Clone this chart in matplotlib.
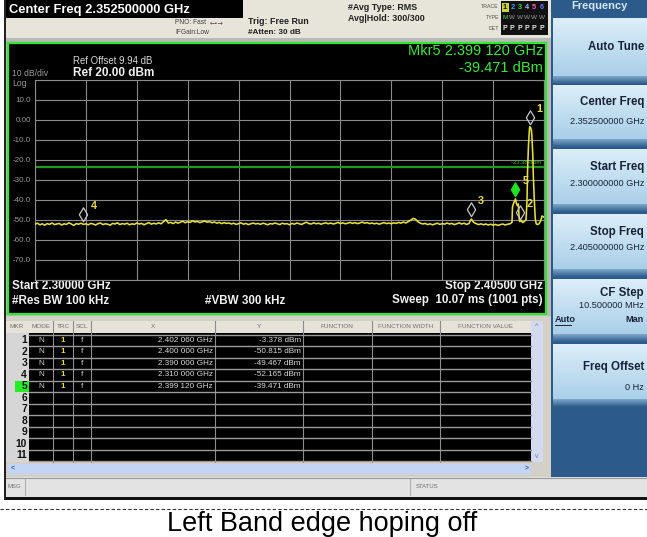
import numpy as np
import matplotlib
matplotlib.use('Agg')
import matplotlib.pyplot as plt
from matplotlib.patches import Rectangle
from matplotlib.path import Path
from matplotlib.colors import to_rgb
from matplotlib import font_manager

W, H = 647, 537

# ---------------- data ----------------
center_freq_ghz = 2.3525
start_freq_ghz = 2.300
stop_freq_ghz = 2.405
ref_level_dbm = 20.0
ref_offset_db = 9.94
db_per_div = 10
display_line_dbm = -23.38
rbw_khz = 100
vbw_khz = 300
sweep_ms = 10.07
sweep_pts = 1001
atten_db = 30
cf_step_mhz = 10.5

# sweep trace, noise part: one sample every 0.5 MHz from 2.300 GHz
noise_start_ghz = 2.300
noise_step_ghz = 0.0005
noise_dbm = [
    -52.1, -51.6, -52.4, -51.9, -52.6, -51.8, -52.2, -51.5, -52.3, -52.0,
    -51.7, -52.5, -51.9, -52.2, -51.4, -52.0, -52.7, -51.8, -52.1, -51.6,
    -52.2, -51.9, -52.4, -51.7, -52.0, -52.5, -51.8, -51.5, -52.3, -51.9,
    -52.1, -52.6, -51.7, -52.0, -51.4, -52.3, -51.8, -52.1, -51.6, -52.4,
    -51.9, -52.2, -51.5, -52.0, -51.7, -52.4, -51.8, -51.3, -52.1, -51.6,
    -52.0, -51.4, -51.9, -50.9, -49.8, -51.5, -51.2, -51.8, -51.0, -51.6,
    -51.1, -50.6, -51.4, -50.8, -51.2, -50.4, -51.0, -50.7, -51.3, -50.9,
    -50.5, -51.1, -50.8, -51.4, -51.0, -51.6, -51.2, -51.8, -51.3, -51.7,
    -51.5, -52.0, -51.6, -52.2, -51.8, -51.4, -52.1, -51.7, -52.3, -51.9,
    -51.5, -52.0, -51.7, -52.2, -51.6, -51.9, -52.4, -51.8, -52.0, -51.5,
    -51.9, -52.3, -51.6, -52.0, -51.8, -52.4, -51.7, -52.1, -51.5, -51.9,
    -52.2, -51.6, -51.1, -51.8, -52.0, -51.4, -51.9, -51.6, -52.1, -51.7,
    -51.4, -51.9, -51.5, -52.0, -51.7, -51.2, -51.8, -51.4, -51.9, -51.6,
    -51.2, -51.7, -51.3, -51.8, -51.5, -51.0, -51.6, -51.3, -51.8, -51.5,
    -51.9, -51.6, -52.1, -51.7, -51.3, -51.8, -51.5, -51.9, -51.4, -51.7,
    -51.2, -51.6, -51.0, -51.5, -50.8, -50.1, -49.2, -49.6, -50.9, -51.6,
    -52.0, -51.7, -52.3, -51.9, -52.4, -52.0, -51.6, -52.2, -51.8, -52.1,
    -51.5, -52.0, -51.7, -52.3, -51.9, -51.4, -52.0, -51.6, -52.2, -51.8,
    -49.5, -51.2, -51.8, -52.3, -51.9, -52.4, -52.0, -52.5, -52.1, -52.6,
    -52.2, -52.7, -52.3, -52.0, -52.5, -52.1,
]
# sweep trace, signal part near the band edge
peak_freq_ghz = [2.3980, 2.3984, 2.3985, 2.3987, 2.39912, 2.3993, 2.3995, 2.3997,
                 2.3998, 2.3999, 2.4000, 2.4003, 2.4006, 2.4010, 2.4013, 2.4015,
                 2.4016, 2.4018, 2.4020, 2.40206, 2.4022, 2.4024, 2.4025, 2.4027,
                 2.4028, 2.4030, 2.4032, 2.4034, 2.4037, 2.4040, 2.4043, 2.4046, 2.4050]
peak_dbm = [-51.9, -51.2, -43.5, -41.8, -39.471, -41.6, -42.8, -42.0,
            -45.5, -49.8, -50.815, -50.2, -51.3, -50.6, -49.8, -40.0,
            -26.0, -12.5, -4.6, -3.378, -3.7, -5.0, -8.0, -18.0,
            -28.0, -40.0, -49.5, -52.0, -52.3, -51.8, -50.5, -48.0, -48.6]

marker_ids = [1, 2, 3, 4, 5]
marker_mode = ['N', 'N', 'N', 'N', 'N']
marker_trace = ['1', '1', '1', '1', '1']
marker_scale = ['f', 'f', 'f', 'f', 'f']
marker_freq_ghz = [2.40206, 2.400000, 2.390000, 2.310000, 2.39912]
marker_dbm = [-3.378, -50.815, -49.467, -52.165, -39.471]
active_marker = 5
table_rows = 11

y_tick_values = [-80, -70, -60, -50, -40, -30, -20, -10, 0, 10, 20]
y_tick_labels = ['', '-70.0', '-60.0', '-50.0', '-40.0', '-30.0', '-20.0', '-10.0', '0.00', '10.0', '']

table_headers = ['MKR', 'MODE', 'TRC', 'SCL', 'X', 'Y', 'FUNCTION', 'FUNCTION WIDTH', 'FUNCTION VALUE']

# ---------------- fonts ----------------
SANS = ['Liberation Sans', 'DejaVu Sans']
_names = {f.name for f in font_manager.fontManager.ttflist}
HAS_NARROW = 'Liberation Sans Narrow' in _names
NARROW = ['Liberation Sans Narrow', 'Liberation Sans', 'DejaVu Sans'] if HAS_NARROW else SANS


def fmt_freq(f):
    s = f"{f:.6f}"
    return s[:5] + ' ' + s[5:]


fig = plt.figure(figsize=(W / 100, H / 100), dpi=100, facecolor='white')
bg = fig.add_axes([0, 0, 1, 1])
bg.set_axis_off()


def rect(x0, y0, x1, y1, fc, ec='none', lw=0, z=1):
    bg.add_patch(Rectangle((x0, y0), x1 - x0, y1 - y0, facecolor=fc, edgecolor=ec, lw=lw, zorder=z))


def T(x, y, s, size, color, ha='left', va='center', weight='normal', family=None, z=6, **kw):
    return bg.text(x, y, s, fontsize=size, color=color, ha=ha, va=va, fontweight=weight,
                   family=family or SANS, zorder=z, **kw)


def grad(x0, y0, x1, y1, c_top, c_bot, z=2):
    a = np.array(to_rgb(c_top))
    b = np.array(to_rgb(c_bot))
    t = np.linspace(0, 1, 64)[:, None]
    img = (a * (1 - t) + b * t)[:, None, :]
    bg.imshow(img, extent=(x0, x1, y1, y0), aspect='auto', interpolation='bilinear', zorder=z)


# ---------------- header ----------------
rect(5, 0, 551, 40, '#e7e4d9')
rect(5, 38, 551, 316, '#b8b8b8')
rect(5, 0, 243, 18, '#000000', z=2)
T(9, 9.5, f"Center Freq {center_freq_ghz:.9f} GHz", 9.3, 'white', weight='bold')
T(175, 23, 'PNO: Fast', 4.8, '#404040')
T(210, 23, '\u2190\u2022\u2192', 4.4, '#404040', family=['DejaVu Sans'])
T(175, 33, 'IFGain:Low', 4.8, '#404040')
T(248, 21.5, 'Trig: Free Run', 6.4, '#202020', weight='bold')
T(248, 32, f'#Atten: {atten_db} dB', 5.9, '#202020', weight='bold')
T(348, 7.5, '#Avg Type: RMS', 6.4, '#202020', weight='bold')
T(348, 18.5, 'Avg|Hold: 300/300', 6.4, '#202020', weight='bold')

# trace status box
rect(501, 1, 548, 35, '#111111', z=2)
T(499, 6.5, 'TRACE', 3.8, '#505050', ha='right')
T(499, 17.5, 'TYPE', 3.8, '#505050', ha='right')
T(499, 28.5, 'DET', 3.8, '#505050', ha='right')
trace_cols = ['#111111', '#3aa0ff', '#40d040', '#b0b0ff', '#ff60c0', '#7070ff']
rect(502, 2.5, 508.5, 11.5, '#c8d040', z=3)
for i in range(6):
    x = 505 + i * 7.3
    T(x, 7.2, str(i + 1), 5.3, trace_cols[i], ha='center', weight='bold')
    T(x, 17.8, 'M' if i == 0 else 'W', 4.6, '#40e040' if i == 0 else '#9a9a9a', ha='center')
    T(x, 28.5, 'P', 5.0, '#e8e8e8', ha='center', weight='bold')

# ---------------- plot panel ----------------
rect(8, 43, 546, 314, '#000000', ec='#2ee82e', lw=1.6, z=2)
T(73, 61.5, f'Ref Offset {ref_offset_db:.2f} dB', 6.9, '#d8d8d8')
T(73, 73, f'Ref {ref_level_dbm:.2f} dBm', 8.5, '#f0f0f0', weight='bold')
T(12, 73.5, f'{db_per_div} dB/div', 6.2, '#9a9a9a')
T(12, 83.5, 'Log', 6.2, '#9a9a9a')
mk = marker_ids.index(active_marker)
T(543, 51, f'Mkr{active_marker} {fmt_freq(marker_freq_ghz[mk])} GHz', 10.5, '#3ce63c', ha='right')
T(543, 67.5, f'{marker_dbm[mk]:.3f} dBm', 10.5, '#3ce63c', ha='right')
T(12, 286, f'Start {start_freq_ghz:.5f} GHz', 8.4, '#f0f0f0', weight='bold')
T(12, 300.5, f'#Res BW {rbw_khz} kHz', 8.4, '#f0f0f0', weight='bold')
T(205, 300.5, f'#VBW {vbw_khz} kHz', 8.4, '#f0f0f0', weight='bold')
T(543, 286, f'Stop {stop_freq_ghz:.5f} GHz', 8.4, '#f0f0f0', ha='right', weight='bold')
T(543, 300.5, f'Sweep  {sweep_ms:.2f} ms ({sweep_pts} pts)', 8.4, '#f0f0f0', ha='right', weight='bold')

# ---------------- marker table ----------------
rect(5, 316, 551, 477, '#d3d0c7')
rect(6, 321, 531, 333, '#e5e2d7', z=2)
rect(6, 333, 29, 461.5, '#d6d6d6', z=2)
rect(29, 333, 531, 461.5, '#000000', z=2)
row_top = 334.5
row_h = 11.5
col_seps = [29, 53, 73, 91, 215, 303, 372, 440]
for xs in col_seps[1:]:
    bg.plot([xs, xs], [321, 461.5], color='#8c8c8c', lw=0.8, zorder=3)
for i in range(table_rows + 1):
    y = row_top + i * row_h
    bg.plot([29, 531], [y, y], color='#9a9a9a', lw=1.0, zorder=3)
hdr_x = [17, 41, 63, 82, 153, 259, 337, 406, 485]
for hx, ht in zip(hdr_x, table_headers):
    T(hx, 327, ht, 4.6, '#707070', ha='center')
val_size = 6.9 if HAS_NARROW else 5.9
for r in range(table_rows):
    yc = row_top + (r + 0.5) * row_h
    if r + 1 == active_marker:
        rect(15, row_top + r * row_h, 29, row_top + (r + 1) * row_h, '#22ee22', z=3)
    T(27, yc, str(r + 1), 7.4, '#101010', ha='right', weight='bold')
for i, mid in enumerate(marker_ids):
    yc = row_top + (mid - 0.5) * row_h
    T(41, yc, marker_mode[i], val_size, '#d0d0d0', ha='center', family=NARROW)
    T(63, yc, marker_trace[i], val_size, '#e8dc30', ha='center', family=NARROW, weight='bold')
    T(82, yc, marker_scale[i], val_size, '#d0d0d0', ha='center', family=NARROW)
    T(213, yc, f'{fmt_freq(marker_freq_ghz[i])} GHz', val_size, '#d8d8d8', ha='right', family=NARROW)
    T(301, yc, f'{marker_dbm[i]:.3f} dBm', val_size, '#d8d8d8', ha='right', family=NARROW)
# scrollbars
rect(531, 321, 543, 461.5, '#d3daf0', z=2)
T(537, 326, '^', 5, '#7080b0', ha='center')
T(537, 456, 'v', 5, '#7080b0', ha='center')
rect(8, 464, 531, 474, '#c3d5f5', z=2)
T(13, 469, '<', 5, '#4060a0', ha='center', weight='bold')
T(527, 469, '>', 5, '#4060a0', ha='center', weight='bold')

# ---------------- status bar ----------------
rect(5, 477, 647, 497, '#e3e3e3', z=2)
bg.plot([5, 647], [477.5, 477.5], color='#9a9a9a', lw=0.8, zorder=3)
bg.plot([25, 25], [479, 495], color='#b0b0b0', lw=0.8, zorder=3)
bg.plot([410, 410], [479, 495], color='#b0b0b0', lw=0.8, zorder=3)
T(8, 487, 'MSG', 4.3, '#707070')
T(416, 487, 'STATUS', 4.3, '#707070')
rect(5, 497, 647, 500, '#111111', z=3)
rect(4, 0, 6, 500, '#222222', z=3)

# ---------------- softkey panel ----------------
rect(551, 0, 647, 477, '#2c5b8b', z=2)
T(599, 6, 'Frequency', 8.0, '#d4e6fa', ha='center', weight='bold')
buttons = [(18, 76), (85, 139), (149, 204), (214, 269), (279, 334), (344, 399)]
for (t0, t1) in buttons:
    grad(553, t0, 647, t1, '#dceef9', '#a9cfe8', z=3)
    grad(553, t1, 647, t1 + 8, '#7fa9cc', '#2c5b8b', z=3)
KC = '#172238'
T(644, 47, 'Auto Tune', 8.3, KC, ha='right', weight='bold')
T(644, 102.5, 'Center Freq', 8.3, KC, ha='right', weight='bold')
T(644, 122, f'{center_freq_ghz:.9f} GHz', 6.6, KC, ha='right')
T(644, 167, 'Start Freq', 8.3, KC, ha='right', weight='bold')
T(644, 183, f'{start_freq_ghz:.9f} GHz', 6.6, KC, ha='right')
T(644, 232, 'Stop Freq', 8.3, KC, ha='right', weight='bold')
T(644, 248, f'{stop_freq_ghz:.9f} GHz', 6.6, KC, ha='right')
T(644, 293, 'CF Step', 8.3, KC, ha='right', weight='bold')
T(644, 305.5, f'{cf_step_mhz:.6f} MHz', 6.6, KC, ha='right')
T(555, 320, 'Auto', 6.6, KC, weight='bold')
bg.plot([555, 571], [324.5, 324.5], color=KC, lw=0.7, zorder=6)
T(644, 320, 'Man', 6.6, KC, ha='right', weight='bold')
T(644, 367, 'Freq Offset', 8.3, KC, ha='right', weight='bold')
T(644, 387, '0 Hz', 6.6, KC, ha='right')

# ---------------- caption ----------------
bg.plot([0, W], [509, 509], color='#333333', lw=0.8, ls=(0, (3, 2)), zorder=3)
T(322, 531, 'Left Band edge hoping off', 19.5, '#000000', ha='center', va='baseline')

bg.set_xlim(0, W)
bg.set_ylim(H, 0)

# ---------------- spectrum axes ----------------
ax = fig.add_axes([35 / W, 1 - 280 / H, 509 / W, 200 / H])
ax.set_facecolor('black')
ax.set_xlim(start_freq_ghz, stop_freq_ghz)
ax.set_ylim(ref_level_dbm - 10 * db_per_div, ref_level_dbm)
ax.set_xticks(np.linspace(start_freq_ghz, stop_freq_ghz, 11))
ax.set_xticklabels([])
ax.set_yticks(y_tick_values)
ax.set_yticklabels(y_tick_labels, family=SANS)
ax.tick_params(length=0, labelsize=5.8, labelcolor='#9a9a9a', pad=3)
ax.grid(True, color='#8a8a8a', lw=0.8)
for s in ax.spines.values():
    s.set_color('#8a8a8a')
    s.set_linewidth(0.8)

noise_freq = noise_start_ghz + noise_step_ghz * np.arange(len(noise_dbm))
freqs = np.concatenate([noise_freq, peak_freq_ghz])
levels = np.concatenate([noise_dbm, peak_dbm])
ax.axhline(display_line_dbm, color='#1f9a1f', lw=1.6, zorder=2)
ax.annotate(f'{display_line_dbm:.2f} dBm', xy=(1, display_line_dbm), xycoords=('axes fraction', 'data'),
            xytext=(-2, 1.5), textcoords='offset points', ha='right', va='bottom',
            fontsize=4.2, color='#2bbf2b', family=SANS)
ax.plot(freqs, levels, color='#e6df3c', lw=1.15, zorder=3)

diamond = Path([(0, 0.4), (-0.6, 1.4), (0, 2.4), (0.6, 1.4), (0, 0.4)],
               [Path.MOVETO, Path.LINETO, Path.LINETO, Path.LINETO, Path.CLOSEPOLY])
for mid, f, v in zip(marker_ids, marker_freq_ghz, marker_dbm):
    act = (mid == active_marker)
    ax.plot([f], [v], marker=diamond, ms=24, mfc='#22e022' if act else 'none',
            mec='#22e022' if act else '#c8c8c8', mew=0.9, ls='none', zorder=5, clip_on=False)
    ax.annotate(str(mid), xy=(f, v), xytext=(5, 13), textcoords='offset points',
                color='#e8d84a', fontsize=7.8, fontweight='bold', ha='left', va='center',
                family=SANS, zorder=6)

fig.savefig('out.png', dpi=100, facecolor='white')
